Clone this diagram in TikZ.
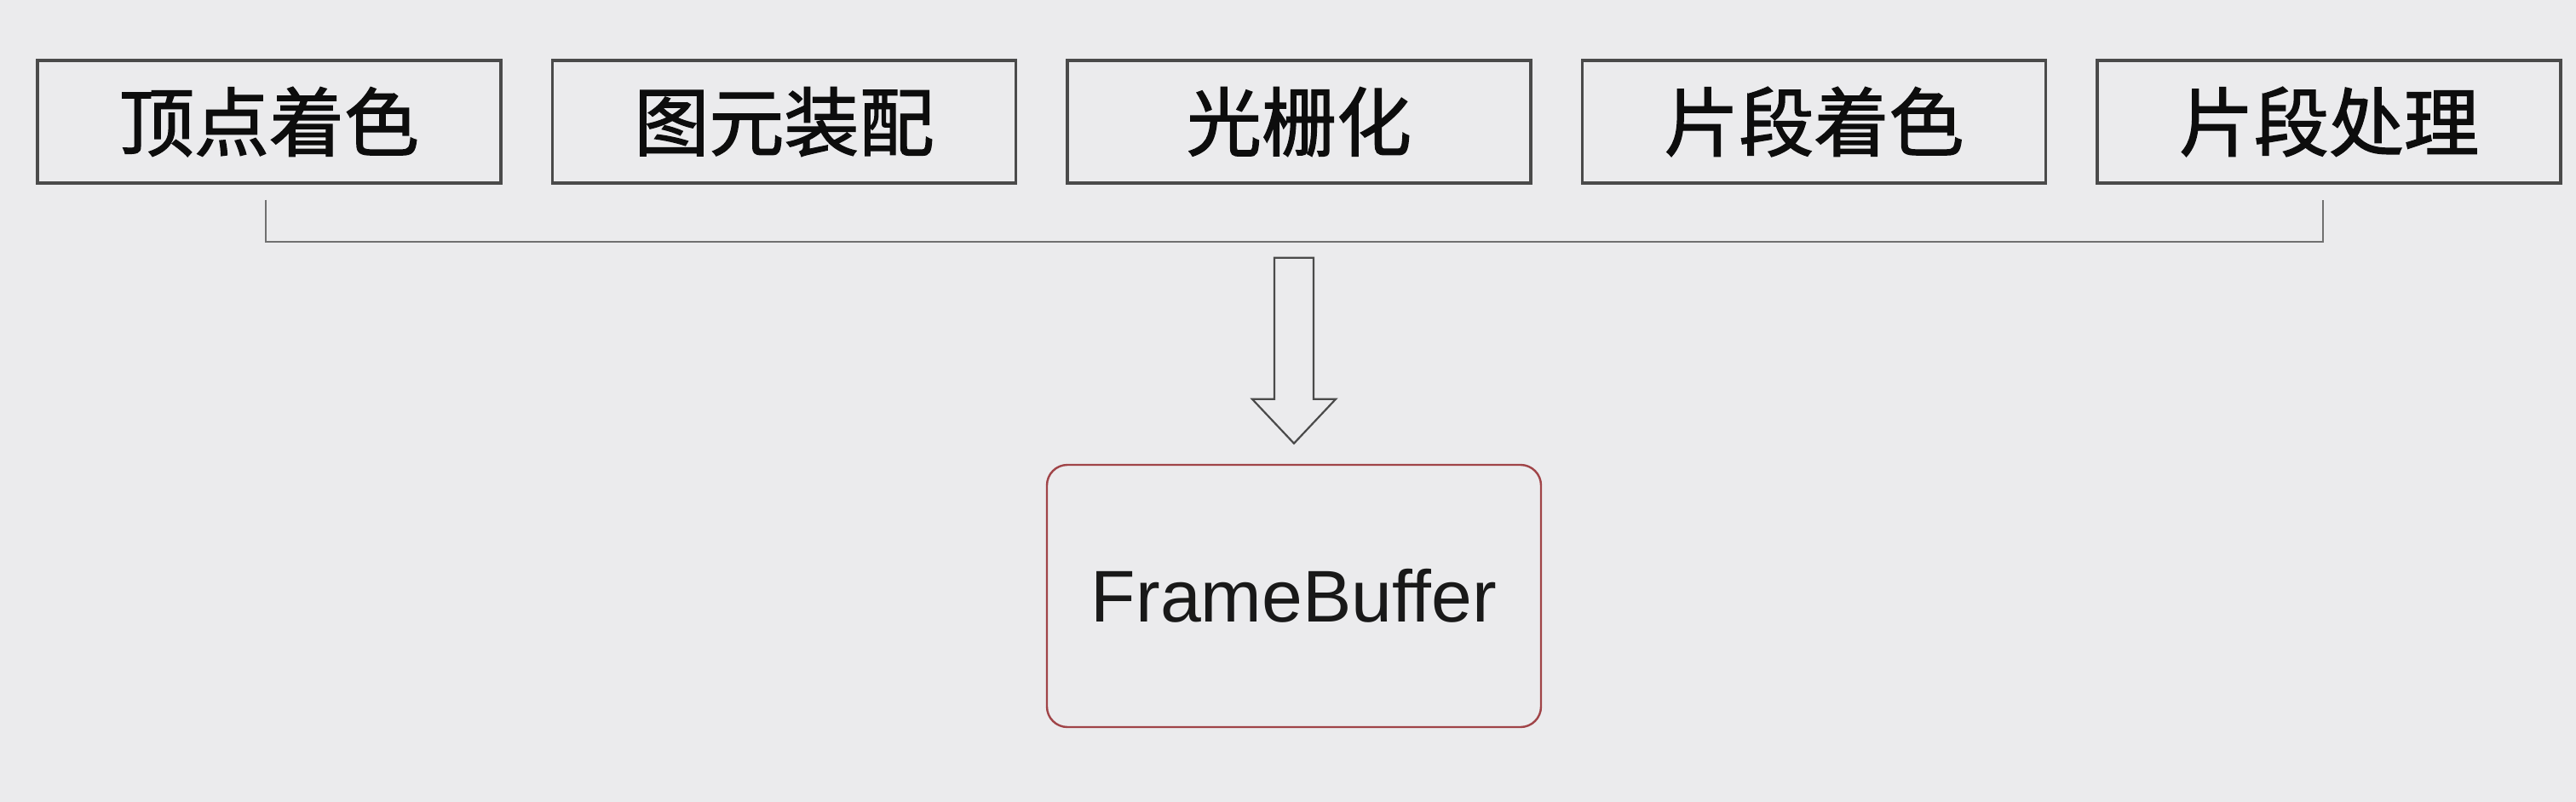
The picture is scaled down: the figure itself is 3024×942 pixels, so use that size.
\documentclass[tikz,border=0pt]{standalone}
\usepackage{fontspec}
\setmainfont{Liberation Sans}
\newfontfamily\cjk[FakeBold=1.6]{Noto Sans CJK SC}
\usetikzlibrary{calc}
\definecolor{bg}{HTML}{EBEBED}
\definecolor{boxline}{HTML}{4A4A4A}
\definecolor{brline}{HTML}{707070}
\definecolor{fbline}{HTML}{A04448}
\begin{document}
\begin{tikzpicture}[x=0.25pt,y=-0.25pt,
  stagebox/.style={draw=boxline,line width=0.8pt,minimum width=136pt,minimum height=36pt,inner sep=0pt,font=\cjk\fontsize{22pt}{24pt}\selectfont,text=black!95},
  fbbox/.style={draw=fbline,line width=0.6pt,rounded corners=6pt,minimum width=145pt,minimum height=77pt,inner sep=0pt,font=\fontsize{21.5pt}{24pt}\selectfont,text=black!90},
  bracket/.style={draw=brline,line width=0.55pt},
  blockarrow/.style={draw=boxline,line width=0.55pt,line join=miter}]
\fill[bg] (0,0) rectangle (3024,942);
\useasboundingbox (0,0) rectangle (3024,942);
\node[stagebox] (b1) at (316,143) {顶点着色};
\node[stagebox] (b2) at (920.5,143) {图元装配};
\node[stagebox] (b3) at (1525,143) {光栅化};
\node[stagebox] (b4) at (2129.5,143) {片段着色};
\node[stagebox] (b5) at (2734,143) {片段处理};
\node[fbbox] (fb) at (1519,700) {\raisebox{-1pt}{FrameBuffer}};
\coordinate (bl) at ($(b1.south)+(-4,18)$);
\coordinate (br) at ($(b5.south)+(-7,18)$);
\draw[bracket] (bl) -- ++(0,49) -| (br);
\coordinate (tip) at ($(fb.north)+(0,-24)$);
\draw[blockarrow] (tip) -- ++(-49,-52) -- ++(26,0) -- ++(0,-166) -- ++(46,0) -- ++(0,166) -- ++(26,0) -- cycle;
\end{tikzpicture}
\end{document}
